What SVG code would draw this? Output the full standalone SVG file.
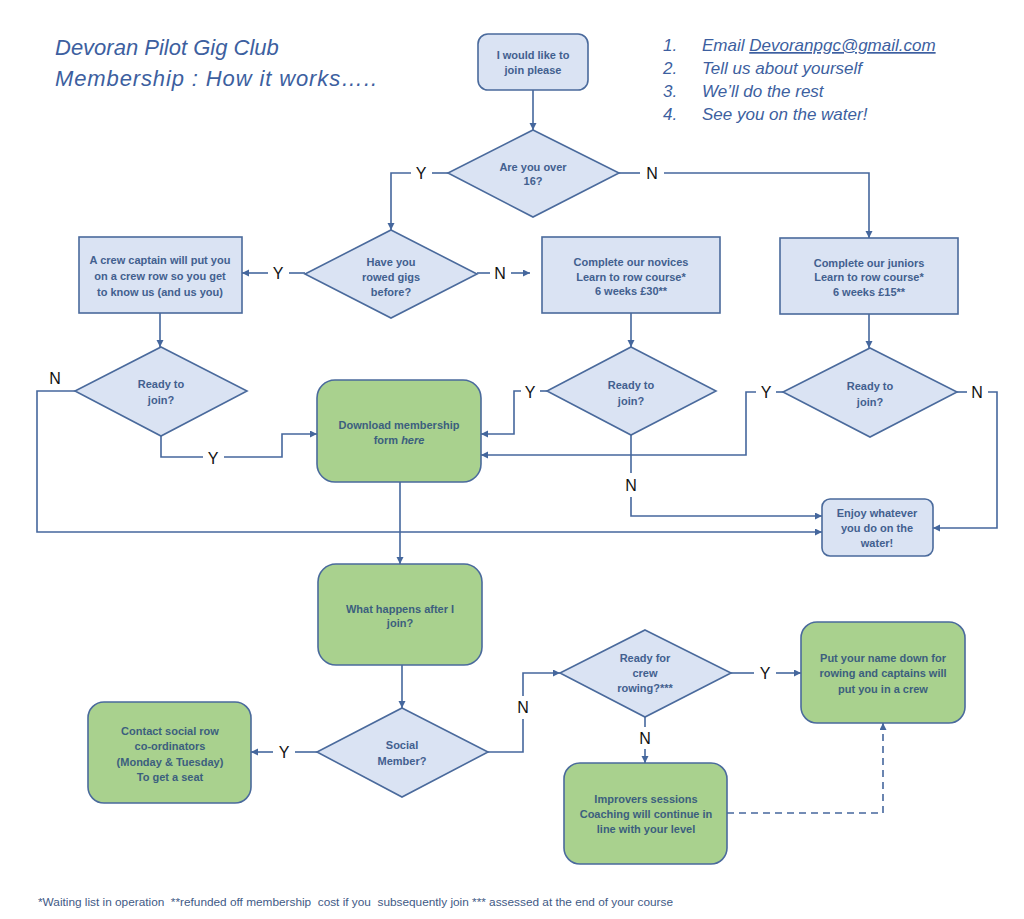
<svg xmlns="http://www.w3.org/2000/svg" width="1024" height="919" viewBox="0 0 1024 919">
<defs>
<marker id="arr" markerUnits="userSpaceOnUse" markerWidth="8" markerHeight="8" refX="7" refY="3.5" orient="auto">
<path d="M0,0 L7,3.5 L0,7 z" fill="#45679d"/>
</marker>
<style>
.blue{fill:#dae3f3;stroke:#4a6a9c;stroke-width:1.6}
.green{fill:#a9d18e;stroke:#4a6a9c;stroke-width:1.6}
.t{font-family:"Liberation Sans",Arial,sans-serif;font-size:11px;font-weight:bold;fill:#42608f;text-anchor:middle}
.tg{font-family:"Liberation Sans",Arial,sans-serif;font-size:11px;font-weight:bold;fill:#3c5f7e;text-anchor:middle}
.lbl{font-family:"Liberation Sans",Arial,sans-serif;font-size:16px;fill:#111;text-anchor:middle}
.hand{font-family:"Liberation Sans",Arial,sans-serif;font-style:italic;fill:#3d5fa0}
.c{fill:none;stroke:#45679d;stroke-width:1.6}
.ca{fill:none;stroke:#45679d;stroke-width:1.6;marker-end:url(#arr)}
</style>
</defs>
<rect width="1024" height="919" fill="#ffffff"/>

<g id="title">
<text class="hand" x="55" y="55" font-size="22">Devoran Pilot Gig Club</text>
<text class="hand" x="55" y="86" font-size="22" textLength="322" lengthAdjust="spacing">Membership : How it works…..</text>
</g>
<g id="steps">
<text class="hand" x="663" y="51" font-size="17">1.</text>
<text class="hand" x="702" y="51" font-size="17">Email <tspan text-decoration="underline">Devoranpgc@gmail.com</tspan></text>
<text class="hand" x="663" y="74" font-size="17">2.</text>
<text class="hand" x="702" y="74" font-size="17">Tell us about yourself</text>
<text class="hand" x="663" y="97" font-size="17">3.</text>
<text class="hand" x="702" y="97" font-size="17">We’ll do the rest</text>
<text class="hand" x="663" y="120" font-size="17">4.</text>
<text class="hand" x="702" y="120" font-size="17">See you on the water!</text>
</g>

<g id="connectors">
<path class="ca" d="M533,90 V130"/>
<path class="c" d="M448,173 H432"/>
<path class="ca" d="M411,173 H391 V230"/>
<path class="c" d="M619,173 H640"/>
<path class="ca" d="M664,173 H869 V238"/>
<path class="c" d="M305,273 H289"/>
<path class="ca" d="M268,273 H242"/>
<path class="c" d="M477,273 H490"/>
<path class="ca" d="M511,273 H530"/>
<path class="ca" d="M160,313 V347"/>
<path class="ca" d="M631,313 V347"/>
<path class="ca" d="M869,314 V348"/>
<path class="ca" d="M75,391 H37 V532 H822"/>
<path class="c" d="M161,436 V457 H203"/>
<path class="ca" d="M224,457 H282 V434 H317"/>
<path class="c" d="M547,391 H540"/>
<path class="ca" d="M521,391 H514 V434 H481"/>
<path class="c" d="M783,392 H776"/>
<path class="ca" d="M756,392 H746 V455 H481"/>
<path class="c" d="M631,435 V473"/>
<path class="ca" d="M631,497 V516 H822"/>
<path class="c" d="M957,392 H967"/>
<path class="ca" d="M988,392 H997 V528 H933"/>
<path class="ca" d="M400,482 V564"/>
<path class="ca" d="M402,665 V708"/>
<path class="c" d="M317,752 H295"/>
<path class="ca" d="M273,752 H251"/>
<path class="c" d="M488,752 H523 V719"/>
<path class="ca" d="M523,696 V673 H560"/>
<path class="c" d="M731,673 H754"/>
<path class="ca" d="M776,673 H801"/>
<path class="c" d="M645,717 V727"/>
<path class="ca" d="M645,749 V763"/>
<path class="ca" d="M727,813 H883 V723" stroke-dasharray="7,5"/>
<text class="lbl" x="421" y="179">Y</text>
<text class="lbl" x="652" y="179">N</text>
<text class="lbl" x="278" y="279">Y</text>
<text class="lbl" x="500" y="279">N</text>
<text class="lbl" x="55" y="384">N</text>
<text class="lbl" x="213" y="464">Y</text>
<text class="lbl" x="530" y="398">Y</text>
<text class="lbl" x="766" y="398">Y</text>
<text class="lbl" x="977" y="398">N</text>
<text class="lbl" x="631" y="491">N</text>
<text class="lbl" x="284" y="758">Y</text>
<text class="lbl" x="523" y="713">N</text>
<text class="lbl" x="765" y="679">Y</text>
<text class="lbl" x="645" y="744">N</text>
</g>

<g id="n-join">
<rect class="blue" x="478" y="34" width="110" height="56" rx="10"/>
<text class="t" x="533" y="59">I would like to</text>
<text class="t" x="533" y="74">join please</text>
</g>
<g id="n-over16">
<path class="blue" d="M533,130 L619,173 L533,217 L448,173 Z"/>
<text class="t" x="533" y="171">Are you over</text>
<text class="t" x="533" y="185">16?</text>
</g>
<g id="n-rowed">
<path class="blue" d="M391,230 L477,274 L391,318 L305,274 Z"/>
<text class="t" x="391" y="266">Have you</text>
<text class="t" x="391" y="281">rowed gigs</text>
<text class="t" x="391" y="296">before?</text>
</g>
<g id="n-captain">
<rect class="blue" x="79" y="237" width="163" height="76"/>
<text class="t" x="160" y="264">A crew captain will put you</text>
<text class="t" x="160" y="280">on a crew row so you get</text>
<text class="t" x="160" y="296">to know us (and us you)</text>
</g>
<g id="n-novices">
<rect class="blue" x="542" y="237" width="178" height="76"/>
<text class="t" x="631" y="266">Complete our novices</text>
<text class="t" x="631" y="281">Learn to row course*</text>
<text class="t" x="631" y="295">6 weeks  £30**</text>
</g>
<g id="n-juniors">
<rect class="blue" x="780" y="238" width="178" height="76"/>
<text class="t" x="869" y="267">Complete our juniors</text>
<text class="t" x="869" y="281">Learn to row course*</text>
<text class="t" x="869" y="296">6 weeks  £15**</text>
</g>
<g id="n-ready1">
<path class="blue" d="M161,347 L247,391 L161,436 L75,391 Z"/>
<text class="t" x="161" y="388">Ready to</text>
<text class="t" x="161" y="404">join?</text>
</g>
<g id="n-ready2">
<path class="blue" d="M631,347 L716,391 L631,435 L547,391 Z"/>
<text class="t" x="631" y="389">Ready to</text>
<text class="t" x="631" y="405">join?</text>
</g>
<g id="n-ready3">
<path class="blue" d="M870,348 L957,392 L870,437 L783,392 Z"/>
<text class="t" x="870" y="390">Ready to</text>
<text class="t" x="870" y="406">join?</text>
</g>
<g id="n-download">
<rect class="green" x="317" y="380" width="164" height="102" rx="18"/>
<text class="tg" x="399" y="429">Download membership</text>
<text class="tg" x="399" y="444">form <tspan font-style="italic">here</tspan></text>
</g>
<g id="n-enjoy">
<rect class="blue" x="822" y="499" width="111" height="57" rx="8"/>
<text class="t" x="877" y="517">Enjoy whatever</text>
<text class="t" x="877" y="532">you do on the</text>
<text class="t" x="877" y="547">water!</text>
</g>
<g id="n-after">
<rect class="green" x="318" y="564" width="164" height="101" rx="18"/>
<text class="tg" x="400" y="613">What happens after I</text>
<text class="tg" x="400" y="627">join?</text>
</g>
<g id="n-social">
<path class="blue" d="M402,708 L488,752 L402,797 L317,752 Z"/>
<text class="t" x="402" y="749">Social</text>
<text class="t" x="402" y="765">Member?</text>
</g>
<g id="n-contact">
<rect class="green" x="88" y="702" width="163" height="101" rx="16"/>
<text class="tg" x="170" y="735">Contact social row</text>
<text class="tg" x="170" y="750">co-ordinators</text>
<text class="tg" x="170" y="766">(Monday &amp; Tuesday)</text>
<text class="tg" x="170" y="781">To get a seat</text>
</g>
<g id="n-crewready">
<path class="blue" d="M645,630 L731,673 L645,717 L560,673 Z"/>
<text class="t" x="645" y="662">Ready for</text>
<text class="t" x="645" y="677">crew</text>
<text class="t" x="645" y="692">rowing?***</text>
</g>
<g id="n-putname">
<rect class="green" x="801" y="622" width="164" height="101" rx="16"/>
<text class="tg" x="883" y="662">Put your name down for</text>
<text class="tg" x="883" y="677">rowing and captains will</text>
<text class="tg" x="883" y="693">put you in a crew</text>
</g>
<g id="n-improvers">
<rect class="green" x="564" y="763" width="163" height="101" rx="16"/>
<text class="tg" x="646" y="803">Improvers sessions</text>
<text class="tg" x="646" y="818">Coaching will continue in</text>
<text class="tg" x="646" y="833">line with your level</text>
</g>

<text x="38" y="906" xml:space="preserve" font-family="Liberation Sans, Arial, sans-serif" font-size="11" fill="#3f5a86" textLength="635" lengthAdjust="spacingAndGlyphs">*Waiting list in operation  **refunded off membership  cost if you  subsequently join *** assessed at the end of your course</text>
</svg>
